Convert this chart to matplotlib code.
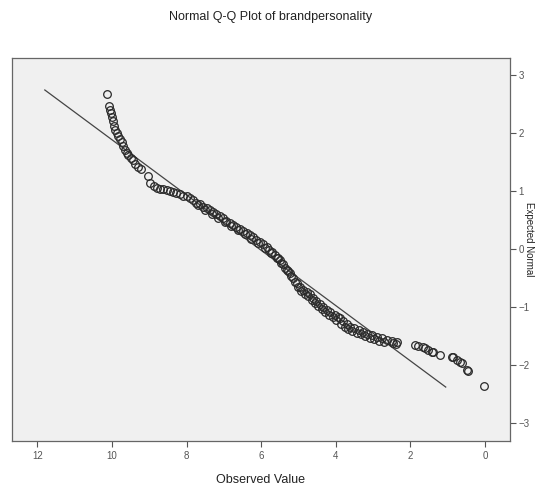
#!/usr/bin/env python3

import matplotlib
matplotlib.use('Agg')
import matplotlib.pyplot as plt
import numpy as np

observed = [
    10.14, 10.07, 10.05, 10.03, 10.00, 9.98, 9.95, 9.92, 9.87, 9.83,
    9.78, 9.74, 9.70, 9.65, 9.60, 9.57, 9.50, 9.44, 9.37, 9.30,
    9.22, 9.03, 8.98, 8.88, 8.80, 8.70, 8.62, 8.53, 8.45, 8.36,
    8.27, 8.18, 8.09, 8.00, 7.91, 7.82,
    7.75, 7.65, 7.55, 7.45, 7.37, 7.28, 7.20, 7.10, 7.02, 6.93,
    6.84, 6.75, 6.66, 6.57, 6.48, 6.39, 6.30, 6.22, 6.13, 6.04,
    5.95, 5.85, 5.78, 5.70, 5.62, 5.55, 5.50, 5.42, 5.35, 5.28,
    5.23, 5.15, 5.05, 4.96, 4.88, 4.78, 4.69, 4.60, 4.52, 4.43,
    4.34, 4.24, 4.14, 4.03, 3.95, 3.89, 3.80, 3.70, 3.62, 3.50,
    3.38, 3.27, 3.15, 3.03, 2.90, 2.77, 2.63, 2.50, 2.36,
    2.45, 2.37, 1.88, 1.80, 1.66, 1.61, 1.53, 1.43, 1.39, 1.21,
    0.89, 0.86, 0.76, 0.67, 0.62, 0.49, 0.46, 0.02,
    # overlapping points in the dense middle band
    7.70, 7.50, 7.32, 7.15, 6.97, 6.80, 6.62, 6.44, 6.26, 6.08,
    5.90, 5.74, 5.58, 5.46, 5.31, 5.19, 5.10, 5.00, 4.92, 4.83,
    4.73, 4.64, 4.56, 4.47, 4.38, 4.29, 4.19, 4.08, 3.99, 3.85,
    3.75, 3.66, 3.56, 3.44, 3.32, 3.21, 3.09, 2.96, 2.83, 2.70,
]
expected = [
    2.67, 2.47, 2.40, 2.34, 2.27, 2.20, 2.12, 2.05, 1.99, 1.94,
    1.89, 1.85, 1.78, 1.71, 1.66, 1.62, 1.57, 1.53, 1.47, 1.42,
    1.38, 1.25, 1.14, 1.09, 1.05, 1.04, 1.03, 1.02, 1.00, 0.98,
    0.96, 0.94, 0.92, 0.91, 0.88, 0.85,
    0.80, 0.77, 0.73, 0.70, 0.67, 0.63, 0.60, 0.56, 0.53, 0.49,
    0.45, 0.42, 0.38, 0.35, 0.31, 0.27, 0.24, 0.20, 0.16, 0.12,
    0.08, 0.04, -0.01, -0.06, -0.11, -0.15, -0.19, -0.26, -0.32, -0.38,
    -0.42, -0.50, -0.58, -0.65, -0.70, -0.74, -0.78, -0.84, -0.90, -0.95,
    -1.00, -1.05, -1.09, -1.14, -1.17, -1.19, -1.25, -1.30, -1.34, -1.37,
    -1.40, -1.43, -1.46, -1.49, -1.51, -1.54, -1.57, -1.59, -1.61,
    -1.62, -1.63, -1.66, -1.67, -1.69, -1.71, -1.74, -1.77, -1.78, -1.82,
    -1.86, -1.86, -1.91, -1.94, -1.97, -2.08, -2.10, -2.37,
    0.75, 0.68, 0.61, 0.54, 0.47, 0.40, 0.33, 0.25, 0.18, 0.10,
    0.02, -0.07, -0.16, -0.25, -0.37, -0.47, -0.57, -0.66, -0.72, -0.77,
    -0.81, -0.88, -0.94, -0.99, -1.04, -1.09, -1.13, -1.18, -1.23, -1.29,
    -1.34, -1.38, -1.41, -1.44, -1.47, -1.50, -1.53, -1.56, -1.58, -1.61,
]

# Reference line end points
line_observed = [11.80, 1.05]
line_expected = [2.74, -2.38]

x_ticks = [0, 2, 4, 6, 8, 10, 12]
y_ticks = [-3, -2, -1, 0, 1, 2, 3]


def main():
    '''Plot mirrored SPSS style normal Q-Q plot
    '''
    matplotlib.rcParams.update({'font.size': 7, 'font.family': 'Liberation Sans'})

    fig = plt.figure(figsize=(5.35, 4.88), dpi=100)
    ax = fig.add_axes([0.0224, 0.0963, 0.9306, 0.7847])
    ax.set_facecolor('#f0f0f0')

    # Reference line
    ax.plot(line_observed, line_expected, color='#444444', lw=0.9, zorder=2)

    # Data points
    ax.plot(observed, expected, 'o',
        mfc='none',
        mec='#2a2a2a',
        mew=0.9,
        ms=5.5,
        zorder=3,
    )

    # Axis ranges, x reversed
    ax.set_xlim(12.68, -0.67)
    ax.set_ylim(-3.31, 3.29)

    ax.set_xticks(x_ticks)
    ax.set_yticks(y_ticks)
    ax.yaxis.tick_right()
    ax.tick_params(axis='both', colors='#555555', labelcolor='#555555',
        direction='out', length=4, width=0.8, labelsize=7)
    ax.tick_params(axis='y', pad=2)

    for s in ax.spines.values():
        s.set_color('#666666')
        s.set_linewidth(0.9)

    ax.set_xlabel('Observed Value', fontsize=9, color='#222222', labelpad=9)

    # Y label squeezed in at the right edge
    fig.text(0.989, 0.51, 'Expected Normal', rotation=270,
        ha='center', va='center', fontsize=7, color='#222222')

    fig.text(0.505, 0.965, 'Normal Q-Q Plot of brandpersonality',
        ha='center', va='center', fontsize=9, color='#222222')

    fig.savefig('out.png', dpi=100)


if __name__ == '__main__':
    main()
